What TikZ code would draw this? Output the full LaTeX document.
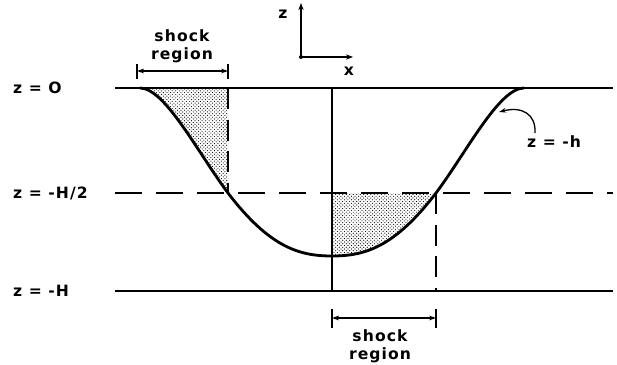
\documentclass[tikz,border=0pt]{standalone}
\usepackage{fontspec}
\setmainfont{DejaVu Sans}[LetterSpace=7]
\usetikzlibrary{patterns,arrows.meta}
\begin{document}
\begin{tikzpicture}[x=0.03cm,y=-0.03cm,
  lbl/.style={font=\fontsize{13.3}{15}\selectfont\bfseries, inner sep=0pt},
  lvl/.style={line width=2.2pt},
  hdash/.style={line width=2.2pt, dash pattern=on 23pt off 12pt},
  vdash/.style={line width=2.2pt, dash pattern=on 18pt off 9pt},
  dimarr/.style={line width=1.1pt, {Stealth[length=6pt,width=4pt]}-{Stealth[length=6pt,width=4pt]}},
  tick/.style={line width=1.1pt},
  stip/.style={pattern=crosshatch dots, pattern color=black}]
\useasboundingbox (0,0) rectangle (617,365);
% coordinates
\coordinate (tl) at (115,88);  \coordinate (tr) at (613,88);
\coordinate (ml) at (115,193); \coordinate (mr) at (613,193);
\coordinate (bl) at (115,291); \coordinate (br) at (613,291);
\coordinate (cs) at (140,88);  \coordinate (ce) at (524,88);
\coordinate (xl) at (228,193); \coordinate (xr) at (436,193);
\coordinate (bot) at (332,256);
\coordinate (ct) at (332,88);  \coordinate (cb) at (332,291);
\coordinate (cm) at (332,193);
\coordinate (lt) at (228,88);  \coordinate (rb) at (436,291);
% shaded regions
\fill[stip] (cs) .. controls (165,88) and (198,153) .. (xl) -- (lt) -- cycle;
\fill[stip] (cm) -- (bot) .. controls (364,256) and (394,248) .. (xr) -- cycle;
% level lines
\draw[lvl] (tl) -- (tr);
\draw[hdash] (ml) -- (mr);
\draw[lvl] (bl) -- (br);
\draw[line width=1.7pt] (ct) -- (cb);
\draw[vdash] (lt) -- (xl);
\draw[vdash] (xr) -- (rb);
% profile
\draw[line width=2.4pt] (cs) .. controls (165,88) and (198,153) .. (xl)
  .. controls (270,248) and (300,256) .. (bot)
  .. controls (364,256) and (394,248) .. (xr)
  .. controls (466,153) and (499,88) .. (ce);
% left labels
\node[lbl, anchor=west] (l0) at (13,88) {z = O};
\node[lbl, anchor=west] (l1) at (13,193) {z = -H/2};
\node[lbl, anchor=west] (l2) at (13,291) {z = -H};
% axes
\coordinate (o) at (301,57);
\coordinate (zt) at (301,3);
\coordinate (xt) at (353,57);
\fill (o) circle (1.7pt);
\draw[line width=1.2pt, -{Stealth[length=6pt,width=4.5pt]}] (o) -- (zt);
\draw[line width=1.2pt, -{Stealth[length=6pt,width=4.5pt]}] (o) -- (xt);
\node[lbl] (zl) at (283,14) {z};
\node[lbl] (xlb) at (349,71) {x};
% top shock region
\coordinate (a1) at (137,71); \coordinate (a2) at (228,71);
\draw[tick] (137,64) -- (137,79);
\draw[tick] (228,64) -- (228,79);
\draw[dimarr] (a1) -- (a2);
\node[lbl, align=center] (s1) at (182,46) {shock\\[0pt]region};
% bottom shock region
\coordinate (b1) at (332,318); \coordinate (b2) at (436,318);
\draw[tick] (332,309) -- (332,328);
\draw[tick] (436,309) -- (436,328);
\draw[dimarr] (b1) -- (b2);
\node[lbl, align=center] (s2) at (380,346) {shock\\[0pt]region};
% z = -h label
\node[lbl, anchor=west] (hl) at (527,142) {z = -h};
\coordinate (hp) at (499,112);
\draw[line width=1.1pt, -{Stealth[length=6pt,width=4pt]}] (535,133) .. controls (536,114) and (522,106) .. (hp);
\end{tikzpicture}
\end{document}
